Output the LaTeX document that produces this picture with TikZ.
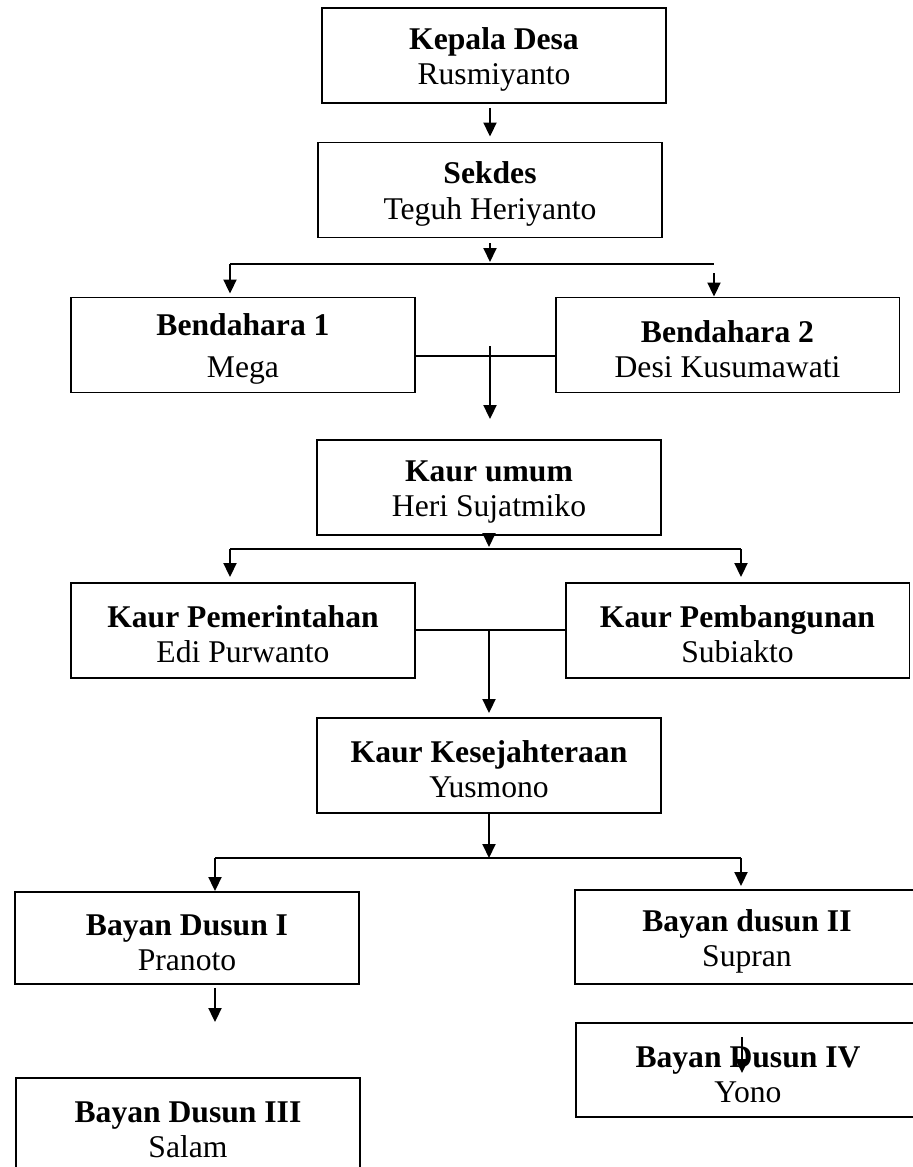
\documentclass[tikz,border=0pt]{standalone}
\usepackage{fontspec}
\setmainfont{Liberation Serif}
\usetikzlibrary{arrows.meta}
\newcommand{\jab}[2]{\rule{0pt}{17pt}\textbf{#1}\\#2}

\begin{document}
\begin{tikzpicture}[x=0.02cm,y=-0.02cm,
    box/.style={draw,line width=1.1pt,minimum width=6.88cm,minimum height=1.9cm,inner sep=0pt,align=center,
      font=\fontsize{18}{20}\selectfont},
    link/.style={line width=1.1pt},
    arr/.style={link,-{Triangle[length=2.8mm,width=2.6mm]}}]
  \clip (0,0) rectangle (913,1167);
  \node[box] (kades) at (494,55.5) {\jab{Kepala Desa}{Rusmiyanto}};
  \node[box] (sekdes) at (490,190) {\jab{Sekdes}{Teguh Heriyanto}};
  \node[box] (bend1) at (243,345) {\rule{0pt}{17pt}\textbf{Bendahara 1}\\[4pt]Mega};
  \node[box] (bend2) at (727.5,345) {\jab{Bendahara 2}{Desi Kusumawati}};
  \node[box] (kaurum) at (489,487.5) {\jab{Kaur umum}{Heri Sujatmiko}};
  \node[box] (kpem) at (243,630.5) {\jab{Kaur Pemerintahan}{Edi Purwanto}};
  \node[box] (kbang) at (737.5,630.5) {\jab{Kaur Pembangunan}{Subiakto}};
  \node[box] (ksej) at (489,765.5) {\jab{Kaur Kesejahteraan}{Yusmono}};
  \node[box,minimum height=1.84cm] (bd1) at (187,938) {\jab{Bayan Dusun I}{Pranoto}};
  \node[box,minimum height=1.88cm] (bd2) at (747,937) {\jab{Bayan dusun II}{Supran}};
  \node[box] (bd3) at (188,1125.5) {\jab{Bayan Dusun III}{Salam}};
  \node[box,minimum height=1.88cm] (bd4) at (748,1070) {\jab{Bayan Dusun IV}{Yono}};

  % kepala desa -> sekdes -> bendahara
  \draw[arr,shorten <=0.8mm,shorten >=1mm] (kades.south -| sekdes.north) -- (sekdes.north);
  \coordinate (j1) at (491,264);
  \coordinate (j1l) at (230,264);
  \coordinate (j1r) at (714,264);
  \draw[arr,shorten <=1mm,shorten >=0.4mm] (sekdes.south) -- (sekdes.south |- j1);
  \draw[link] (j1l) -- (j1r);
  \draw[arr,shorten >=0.6mm] (j1l) -- (j1l |- bend1.north);
  \draw[arr,shorten <=1.8mm] (j1r) -- (j1r |- bend2.north);

  % bendahara -> kaur umum
  \coordinate (m1) at (490,356);
  \coordinate (m1t) at (490,346);
  \draw[link] (bend1.east |- m1) -- (bend2.west |- m1);
  \draw[arr,shorten >=4mm] (m1t) -- (m1t |- kaurum.north);

  % kaur umum -> kaur
  \coordinate (j2) at (489,549);
  \coordinate (j2l) at (230,549);
  \coordinate (j2r) at (741,549);
  \draw[arr,shorten >=0.4mm] (kaurum.south) -- (kaurum.south |- j2);
  \draw[link] (j2l) -- (j2r);
  \draw[arr,shorten >=1mm] (j2l) -- (j2l |- kpem.north);
  \draw[arr,shorten >=1mm] (j2r) -- (j2r |- kbang.north);

  % kaur -> kesejahteraan
  \coordinate (m2) at (489,630);
  \draw[link] (kpem.east |- m2) -- (kbang.west |- m2);
  \draw[arr,shorten >=0.8mm] (m2) -- (m2 |- ksej.north);

  % kesejahteraan -> bayan dusun
  \coordinate (j3) at (489,858);
  \coordinate (j3l) at (215,858);
  \coordinate (j3r) at (741,858);
  \draw[arr] (ksej.south) -- (j3);
  \draw[link] (j3l) -- (j3r);
  \draw[arr] (j3l) -- (j3l |- bd1.north);
  \draw[arr,shorten >=0.6mm] (j3r) -- (j3r |- bd2.north);
  \draw[arr,shorten <=0.6mm,shorten >=1.1cm] (bd1.south -| j3l) -- (j3l |- bd3.north);
  \coordinate (s4) at (742,1037);
  \coordinate (e4) at (742,1073);
  \draw[arr] (s4) -- (e4);
\end{tikzpicture}
\end{document}
